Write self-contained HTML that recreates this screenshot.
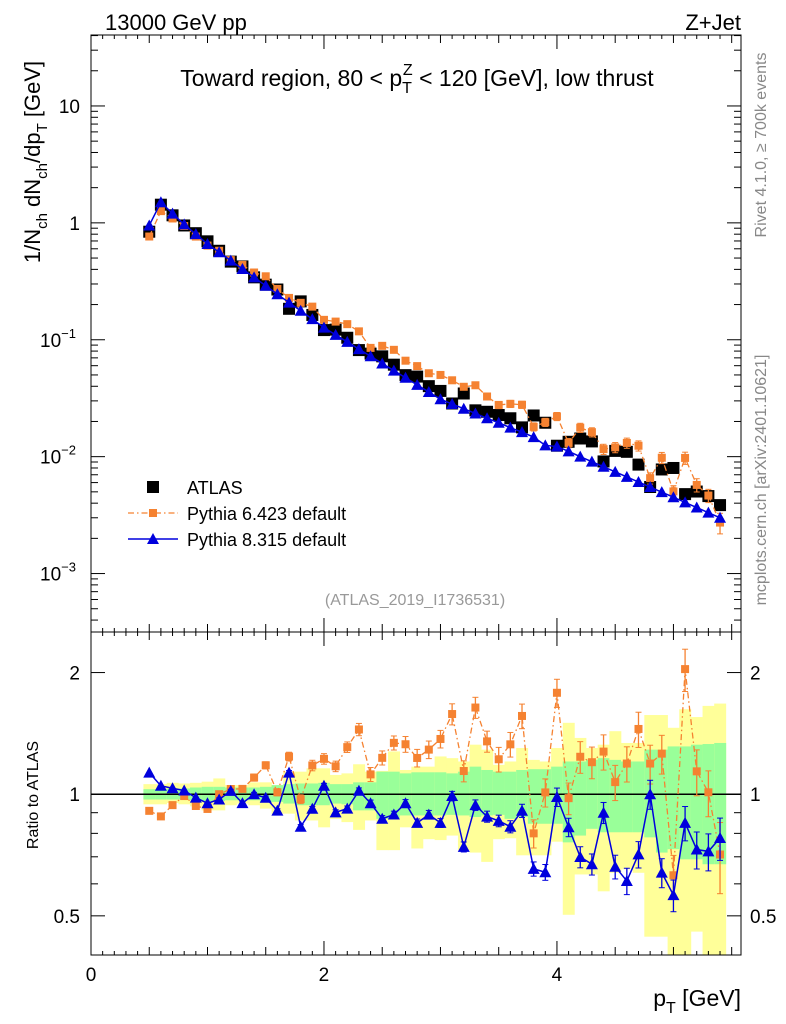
<!DOCTYPE html>
<html><head><meta charset="utf-8"><style>
body{margin:0;background:#fff}
svg{display:block;font-family:"Liberation Sans",Arial,sans-serif}
</style></head><body>
<svg id="c" width="786" height="1024" viewBox="0 0 786 1024" xmlns="http://www.w3.org/2000/svg">
<text x="105" y="30" font-size="22">13000 GeV pp</text>
<text x="741" y="30" font-size="22" text-anchor="end">Z+Jet</text>
<text x="417" y="86" font-size="23" text-anchor="middle">Toward region, 80 &lt; p<tspan font-size="16" dy="7">T</tspan><tspan font-size="16" dx="-9" dy="-18">Z</tspan><tspan dy="11"> &lt; 120 [GeV], low thrust</tspan></text>
<text transform="translate(40,162) rotate(-90)" font-size="22" text-anchor="middle">1/N<tspan font-size="15" dy="7">ch</tspan><tspan dy="-7"> dN</tspan><tspan font-size="15" dy="7">ch</tspan><tspan dy="-7">/dp</tspan><tspan font-size="15" dy="7">T</tspan><tspan dy="-7"> [GeV]</tspan></text>
<text transform="translate(766,145) rotate(-90)" font-size="16" fill="#888" text-anchor="middle">Rivet 4.1.0, ≥ 700k events</text>
<text transform="translate(766,480) rotate(-90)" font-size="16" fill="#888" text-anchor="middle">mcplots.cern.ch [arXiv:2401.10621]</text>
<text x="415" y="605" font-size="16" fill="#999" text-anchor="middle">(ATLAS_2019_I1736531)</text>
<text transform="translate(38,795) rotate(-90)" font-size="16" text-anchor="middle">Ratio to ATLAS</text>
<text x="741" y="1006" font-size="23" text-anchor="end">p<tspan font-size="16" dy="7">T</tspan><tspan dy="-7"> [GeV]</tspan></text>
<g id="legend">
<g><rect x="147" y="481" width="12" height="12" fill="#000"/><text x="187" y="494" font-size="18">ATLAS</text></g>
<g><line x1="128" y1="513" x2="178" y2="513" stroke="#f58231" stroke-width="1.3" stroke-dasharray="6,3,1.5,3"/><rect x="149" y="509" width="8" height="8" fill="#f58231"/><text x="187" y="520" font-size="18">Pythia 6.423 default</text></g>
<g><line x1="128" y1="539" x2="178" y2="539" stroke="#0000dd" stroke-width="1.5"/><polygon points="153,533 159,544 147,544" fill="#0000dd"/><text x="187" y="546" font-size="18">Pythia 8.315 default</text></g>
</g>
<g id="plots"></g>
</svg>
<script>
const pt=[0.5,0.6,0.7,0.8,0.9,1.0,1.1,1.2,1.3,1.4,1.5,1.6,1.7,1.8,1.9,2.0,2.1,2.2,2.3,2.4,2.5,2.6,2.7,2.8,2.9,3.0,3.1,3.2,3.3,3.4,3.5,3.6,3.7,3.8,3.9,4.0,4.1,4.2,4.3,4.4,4.5,4.6,4.7,4.8,4.9,5.0,5.1,5.2,5.3,5.4];
const atlas=[0.84,1.43,1.16,0.95,0.816,0.695,0.577,0.466,0.424,0.342,0.296,0.269,0.184,0.213,0.163,0.121,0.122,0.104,0.0816,0.0761,0.0721,0.0612,0.0498,0.0484,0.0401,0.0365,0.0285,0.0347,0.0249,0.0242,0.0227,0.0213,0.0178,0.0225,0.0195,0.0124,0.0134,0.0143,0.0135,0.0091,0.0112,0.0110,0.00855,0.0055,0.00777,0.0080,0.00478,0.00503,0.0046,0.00385];
const py6=[0.764,1.26,1.09,0.94,0.763,0.639,0.577,0.480,0.437,0.376,0.349,0.272,0.228,0.207,0.192,0.148,0.143,0.136,0.118,0.0852,0.0887,0.0820,0.0662,0.0595,0.0517,0.0500,0.0450,0.0396,0.0408,0.0327,0.0277,0.0283,0.0278,0.0180,0.0197,0.0221,0.0131,0.0177,0.0162,0.0116,0.0120,0.0131,0.0124,0.00655,0.00979,0.00504,0.00975,0.00573,0.00465,0.00273];
const py8=[0.95,1.5,1.2,0.97,0.80,0.66,0.56,0.475,0.403,0.342,0.290,0.245,0.208,0.177,0.150,0.127,0.110,0.0958,0.0832,0.0723,0.0627,0.0545,0.0473,0.0411,0.0357,0.0310,0.0282,0.0257,0.0234,0.0213,0.0195,0.0177,0.0162,0.0147,0.0125,0.0122,0.0111,0.0100,0.00906,0.00819,0.00741,0.00671,0.00607,0.00550,0.00497,0.00450,0.00406,0.00367,0.00332,0.00300];
const py6Err=[0.01,0.01,0.01,0.01,0.01,0.01,0.015,0.015,0.015,0.02,0.02,0.02,0.025,0.025,0.03,0.03,0.03,0.03,0.035,0.04,0.04,0.04,0.045,0.05,0.05,0.05,0.06,0.06,0.06,0.06,0.07,0.07,0.07,0.08,0.08,0.08,0.09,0.09,0.09,0.1,0.1,0.1,0.1,0.11,0.11,0.12,0.12,0.13,0.13,0.2];
const py8Err=[0.005,0.005,0.005,0.005,0.005,0.005,0.006,0.006,0.006,0.007,0.007,0.007,0.008,0.008,0.009,0.009,0.01,0.01,0.011,0.012,0.012,0.013,0.014,0.015,0.016,0.017,0.018,0.019,0.02,0.021,0.022,0.023,0.025,0.027,0.03,0.035,0.035,0.04,0.04,0.04,0.045,0.05,0.05,0.055,0.055,0.06,0.065,0.07,0.07,0.08];
const yellowHi=[1.059,1.059,1.067,1.063,1.067,1.074,1.094,1.053,1.053,1.070,1.070,1.053,1.137,1.137,1.159,1.159,1.116,1.126,1.186,1.137,1.142,1.276,1.148,1.170,1.170,1.240,1.228,1.205,1.326,1.289,1.182,1.205,1.301,1.216,1.205,1.301,1.502,1.378,1.301,1.326,1.432,1.339,1.339,1.570,1.570,1.460,1.623,1.552,1.654,1.676];
const yellowLo=[0.944,0.944,0.951,0.944,0.933,0.912,0.912,0.939,0.948,0.939,0.921,0.895,0.895,0.861,0.861,0.828,0.869,0.853,0.816,0.861,0.727,0.727,0.828,0.734,0.774,0.770,0.790,0.727,0.717,0.680,0.774,0.778,0.706,0.706,0.706,0.763,0.503,0.633,0.633,0.575,0.639,0.652,0.639,0.444,0.444,0.40,0.40,0.457,0.40,0.40];
const greenHi=[1.029,1.029,1.033,1.033,1.039,1.043,1.043,1.039,1.039,1.039,1.043,1.053,1.059,1.063,1.063,1.067,1.059,1.059,1.070,1.070,1.137,1.137,1.126,1.133,1.133,1.133,1.126,1.137,1.170,1.148,1.137,1.137,1.148,1.153,1.153,1.170,1.205,1.205,1.216,1.228,1.216,1.205,1.205,1.289,1.289,1.313,1.313,1.326,1.331,1.339];
const greenLo=[0.970,0.970,0.970,0.970,0.966,0.962,0.962,0.966,0.966,0.966,0.957,0.957,0.948,0.939,0.939,0.939,0.948,0.944,0.912,0.912,0.869,0.869,0.886,0.886,0.886,0.886,0.889,0.886,0.878,0.886,0.889,0.869,0.878,0.845,0.845,0.845,0.760,0.790,0.821,0.805,0.805,0.805,0.805,0.782,0.717,0.731,0.690,0.690,0.671,0.671];
const xTicks=[0,2,4];
const mainTicks=[-3,-2,-1,0,1];
const ratioTicks=[0.5,1,2];

const NS="http://www.w3.org/2000/svg";
const L=91,R=741,T=35,MB=632,RB=955;
const xMin=0,xMax=5.58;
const sx=v=>L+(v-xMin)/(xMax-xMin)*(R-L);
const lyMin=-3.5,lyMax=1.607;
const sy=v=>MB-(Math.log10(v)-lyMin)/(lyMax-lyMin)*(MB-T);
const lrMin=Math.log10(0.40),lrMax=Math.log10(2.52);
const sr=v=>RB-(Math.log10(Math.max(v,0.39))-lrMin)/(lrMax-lrMin)*(RB-MB);
const g=document.getElementById('plots');
function el(tag,attrs,parent){const e=document.createElementNS(NS,tag);for(const k in attrs)e.setAttribute(k,attrs[k]);(parent||g).appendChild(e);return e;}

const bands=el('g',{});


pt.forEach((p,i)=>{
  const x0=sx(p-0.05),x1=sx(p+0.05);
  const y=el('rect',{x:x0,y:sr(yellowHi[i]),width:x1-x0+0.3,height:sr(yellowLo[i])-sr(yellowHi[i]),fill:'#ffff99'},bands);
  
  
  const gr=el('rect',{x:x0,y:sr(greenHi[i]),width:x1-x0+0.3,height:sr(greenLo[i])-sr(greenHi[i]),fill:'#99ff99'},bands);
  
  
});

const f1=el('rect',{x:L,y:T,width:R-L,height:MB-T,fill:'none',stroke:'#000','stroke-width':1});


const f2=el('rect',{x:L,y:MB,width:R-L,height:RB-MB,fill:'none',stroke:'#000','stroke-width':1});


const one=el('line',{x1:L,x2:R,y1:sr(1),y2:sr(1),stroke:'#000','stroke-width':1.5});



for(let v=0;v<=5.5+1e-9;v+=0.1){
  const major=Math.abs(v/2-Math.round(v/2))<1e-6, half=Math.abs(v*2-Math.round(v*2))<1e-6;
  const len=major?14:(half?8:4);
  [[MB,-1],[T,1],[RB,-1],[MB,1]].forEach(([y0,d])=>el('line',{x1:sx(v),x2:sx(v),y1:y0,y2:y0+d*len,stroke:'#000'}));
}
xTicks.forEach(v=>{const t=el('text',{x:sx(v),y:981,'font-size':19,'text-anchor':'middle'});t.textContent=v;
 
 });
for(let d=-4;d<=1;d++){for(let m=1;m<=9;m++){const v=m*Math.pow(10,d);const lv=Math.log10(v);if(lv<lyMin||lv>lyMax)continue;
 const len=m===1?14:7;el('line',{x1:L,x2:L+len,y1:sy(v),y2:sy(v),stroke:'#000'});el('line',{x1:R,x2:R-len,y1:sy(v),y2:sy(v),stroke:'#000'});}}
mainTicks.forEach(d=>{const y=sy(Math.pow(10,d));let t;
 if(d===0){t=el('text',{x:80,y:y+7,'font-size':19,'text-anchor':'end'});t.textContent='1';}
 else if(d===1){t=el('text',{x:80,y:y+7,'font-size':19,'text-anchor':'end'});t.textContent='10';}
 else{t=el('text',{x:76,y:y+7,'font-size':19,'text-anchor':'end'});t.innerHTML='10<tspan font-size="13" dy="-9">'+(d===-1?'−1':d===-2?'−2':'−3')+'</tspan>';}
 
 });
[0.4,0.5,0.6,0.7,0.8,0.9,1,2].forEach(v=>{const len=(v===0.5||v===1||v===2)?14:7;
 el('line',{x1:L,x2:L+len,y1:sr(v),y2:sr(v),stroke:'#000'});el('line',{x1:R,x2:R-len,y1:sr(v),y2:sr(v),stroke:'#000'});});
ratioTicks.forEach(v=>{[[80,'end'],[750,'start']].forEach(([x,a])=>{const t=el('text',{x:x,y:sr(v)+7,'font-size':19,'text-anchor':a});t.textContent=v;
 
 });});

function line(vals,fy,color,dash,w,name){const p=el('polyline',{points:pt.map((x,i)=>sx(x)+','+fy(vals[i])).join(' '),fill:'none',stroke:color,'stroke-width':w,'stroke-dasharray':dash});
 
 }
function err(vals,errs,fy,color){pt.forEach((x,i)=>{const a=fy(vals[i]*(1+errs[i])),b=fy(vals[i]*(1-errs[i]));if(Math.abs(b-a)<3)return;
 el('line',{x1:sx(x),x2:sx(x),y1:a,y2:b,stroke:color,'stroke-width':1.3});el('line',{x1:sx(x)-3,x2:sx(x)+3,y1:a,y2:a,stroke:color});el('line',{x1:sx(x)-3,x2:sx(x)+3,y1:b,y2:b,stroke:color});});}
function squares(vals,fy,color,s,name){pt.forEach((x,i)=>{const r=el('rect',{x:sx(x)-s/2,y:fy(vals[i])-s/2,width:s,height:s,fill:color});
 
 });}
function tris(vals,fy,color,name){pt.forEach((x,i)=>{const X=sx(x),Y=fy(vals[i]);const p=el('polygon',{points:`${X},${Y-6} ${X+6},${Y+5} ${X-6},${Y+5}`,fill:color});
 
 });}

squares(atlas,sy,'#000',12,'atlas-point');
line(py6,sy,'#f58231','6,3,1.5,3',1.3,'pythia6-line');
err(py6,py6Err,sy,'#f58231');
squares(py6,sy,'#f58231',8,'pythia6-point');
line(py8,sy,'#0000dd','',1.5,'pythia8-line');
tris(py8,sy,'#0000dd','pythia8-point');
const r6=py6.map((v,i)=>v/atlas[i]), r8=py8.map((v,i)=>v/atlas[i]);
line(r6,sr,'#f58231','6,3,1.5,3',1.3,'pythia6-ratio-line');
err(r6,py6Err,sr,'#f58231');
squares(r6,sr,'#f58231',8,'pythia6-ratio-point');
line(r8,sr,'#0000dd','',1.5,'pythia8-ratio-line');
err(r8,py8Err.map(e=>e*1.5),sr,'#0000dd');
tris(r8,sr,'#0000dd','pythia8-ratio-point');
</script>
</body></html>
